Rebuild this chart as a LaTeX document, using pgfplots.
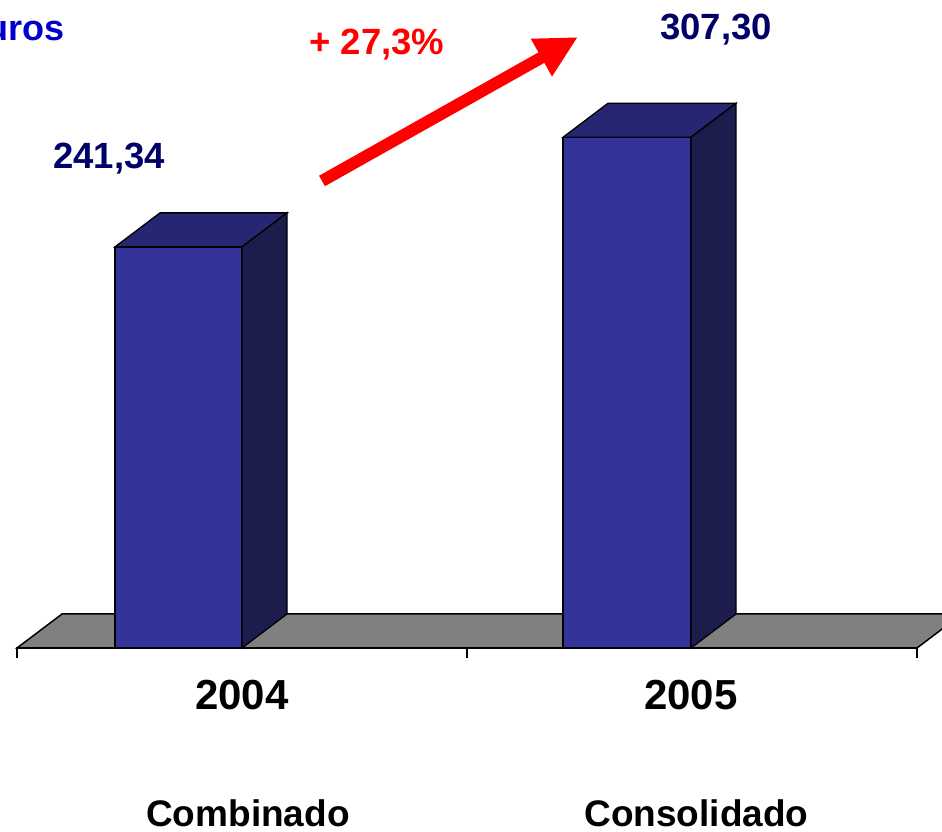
\documentclass[border=0pt]{standalone}
\usepackage{pgfplots}
\pgfplotsset{compat=1.18}
\usepackage{fontspec}
\setmainfont{Liberation Sans}
\usetikzlibrary{arrows.meta}
\definecolor{frontc}{RGB}{51,51,153}
\definecolor{topc}{RGB}{38,38,115}
\definecolor{sidec}{RGB}{28,28,77}
\definecolor{floorc}{RGB}{128,128,128}
\definecolor{navy}{RGB}{0,0,102}
\definecolor{titleblue}{RGB}{0,0,204}
\begin{document}
\begin{tikzpicture}
\begin{axis}[
  width=942pt, height=832pt, scale only axis,
  xmin=0, xmax=942, ymin=-110.71, ymax=389.89,
  axis lines=none, clip mode=individual,
]
% floor
\addplot[fill=floorc, draw=black, line width=1.5pt] coordinates {(17,0)(917,0)(962,20.46)(62,20.46)} -- cycle;
% bottom axis line and ticks
\addplot[black, line width=1.5pt] coordinates {(17,-6)(17,0)(917,0)(917,-6)};
\addplot[black, line width=1.2pt] coordinates {(467,0)(467,-6)};
% bar 2004 : 241.34
\addplot[fill=frontc, draw=black, line width=1.3pt] coordinates {(115,0)(242,0)(242,241.34)(115,241.34)} -- cycle;
\addplot[fill=topc, draw=black, line width=1.3pt] coordinates {(115,241.34)(242,241.34)(287,261.80)(160,261.80)} -- cycle;
\addplot[fill=sidec, draw=black, line width=1.3pt] coordinates {(242,0)(287,20.46)(287,261.80)(242,241.34)} -- cycle;
% bar 2005 : 307.30
\addplot[fill=frontc, draw=black, line width=1.3pt] coordinates {(563,0)(691,0)(691,307.30)(563,307.30)} -- cycle;
\addplot[fill=topc, draw=black, line width=1.3pt] coordinates {(563,307.30)(691,307.30)(736,327.76)(608,327.76)} -- cycle;
\addplot[fill=sidec, draw=black, line width=1.3pt] coordinates {(691,0)(736,20.46)(736,327.76)(691,307.30)} -- cycle;
% arrow
\draw[red, line width=12pt, -{Triangle[length=42pt,width=40pt]}] (axis cs:322,281.0) -- (axis cs:578,367.6);
% texts
\node[anchor=base east, inner sep=0, text=titleblue, font=\fontsize{36}{40}\selectfont\bfseries] at (axis cs:65,365.8) {uros};
\node[anchor=base, inner sep=0, text=navy, font=\fontsize{36.5}{40}\selectfont\bfseries] at (axis cs:109,288.8) {241,34};
\node[anchor=base, inner sep=0, text=navy, font=\fontsize{36.5}{40}\selectfont\bfseries] at (axis cs:716,366.4) {307,30};
\node[anchor=base, inner sep=0, text=red, font=\fontsize{36.5}{40}\selectfont\bfseries] at (axis cs:377,356.8) {+ 27,3\%};
\node[anchor=base, inner sep=0, font=\fontsize{42}{46}\selectfont\bfseries] at (axis cs:242,-37.3) {2004};
\node[anchor=base, inner sep=0, font=\fontsize{42}{46}\selectfont\bfseries] at (axis cs:691,-37.3) {2005};
\node[anchor=base, inner sep=0, font=\fontsize{37}{40}\selectfont\bfseries] at (axis cs:248,-107.7) {Combinado};
\node[anchor=base, inner sep=0, font=\fontsize{37}{40}\selectfont\bfseries] at (axis cs:696.5,-107.7) {Consolidado};
\end{axis}
\pgfresetboundingbox
\path[use as bounding box] (current axis.south west) rectangle (current axis.north east);
\end{tikzpicture}
\end{document}
